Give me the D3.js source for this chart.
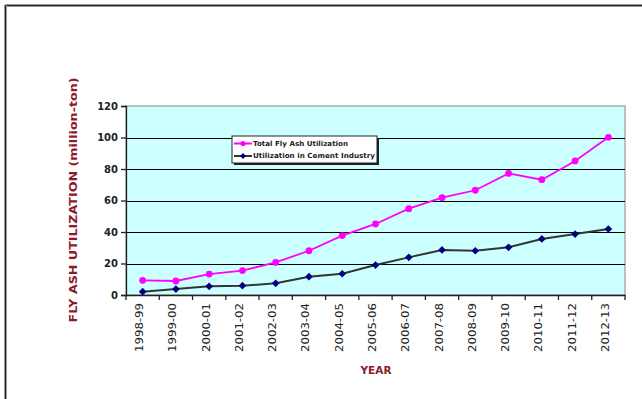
<!DOCTYPE html>
<html><head><meta charset="utf-8">
<script src="https://cdn.jsdelivr.net/npm/d3@7"></script>
<style>body{margin:0;background:#fff}svg{display:block}</style>
</head><body>
<script>
const categories = ["1998-99","1999-00","2000-01","2001-02","2002-03","2003-04","2004-05","2005-06","2006-07","2007-08","2008-09","2009-10","2010-11","2011-12","2012-13"];
const totalUtilization = [9.3,8.9,13.3,15.5,20.7,28.1,37.7,45.1,54.8,61.8,66.5,77.2,73.2,85.1,100.1];
const cementUtilization = [2.1,3.8,5.5,5.9,7.4,11.6,13.5,19.0,23.9,28.6,28.1,30.3,35.6,38.7,41.9];
const yTicks = [0,20,40,60,80,100,120];
const seriesNames = ["Total Fly Ash Utilization","Utilization in Cement Industry"];

const W=642,H=399;
const svg=d3.select("body").append("svg").attr("width",W).attr("height",H);
const L=126,R=625,T=106,B=295;
const x=d3.scaleBand().domain(categories).range([L,R]).paddingInner(0).paddingOuter(0);
const y=d3.scaleLinear().domain([0,120]).range([B,T]);

// outer frame
svg.append("line").attr("x1",5).attr("x2",W).attr("y1",5.5).attr("y2",5.5).attr("stroke","#999").attr("stroke-width",3);
svg.append("line").attr("x1",5).attr("x2",W).attr("y1",5.5).attr("y2",5.5).attr("stroke","#222").attr("stroke-width",1);
svg.append("line").attr("x1",5.5).attr("x2",5.5).attr("y1",5).attr("y2",H).attr("stroke","#999").attr("stroke-width",3);
svg.append("line").attr("x1",5.5).attr("x2",5.5).attr("y1",5).attr("y2",H).attr("stroke","#222").attr("stroke-width",1);

// plot background
svg.append("rect").attr("x",L).attr("y",T).attr("width",R-L).attr("height",B-T).attr("fill","#CCFFFF").attr("stroke","#999").attr("stroke-width",1.2);

// gridlines
svg.append("g").selectAll("line").data(yTicks.filter(d=>d>0&&d<120)).join("line")
  .attr("x1",L).attr("x2",R).attr("y1",d=>Math.round(y(d))+0.5).attr("y2",d=>Math.round(y(d))+0.5)
  .attr("stroke","#000").attr("stroke-width",1.2);

// y axis
const ya=svg.append("g").attr("transform",`translate(${L},0)`)
  .call(d3.axisLeft(y).tickValues(yTicks).tickSize(5).tickPadding(3));
ya.selectAll("text").attr("font-family","DejaVu Sans, Verdana, sans-serif").attr("font-size",10).attr("font-weight","bold").attr("fill","#222");
ya.select(".domain").attr("stroke","#222").attr("stroke-width",1.3);
ya.selectAll(".tick line").attr("stroke","#222").attr("stroke-width",1.3);

// x axis
const xa=svg.append("g").attr("transform",`translate(0,${B})`)
  .call(d3.axisBottom(x).tickSize(0).tickSizeOuter(0));
xa.select(".domain").attr("stroke","#222").attr("stroke-width",1.3);
xa.selectAll(".tick text").attr("font-family","DejaVu Sans, Verdana, sans-serif").attr("font-size",10).attr("fill","#222")
  .attr("transform","rotate(-90)").attr("text-anchor","end").attr("x",-8).attr("y",-3).attr("dy","0.35em")
  .attr("textLength",49).attr("lengthAdjust","spacingAndGlyphs");
// band-edge ticks
const edges=categories.map(c=>x(c)).concat([R]);
svg.append("g").selectAll("line").data(edges).join("line")
  .attr("x1",d=>d).attr("x2",d=>d).attr("y1",B).attr("y2",B+5).attr("stroke","#222").attr("stroke-width",1.3);

// lines
const cx=d=>x(d)+x.bandwidth()/2;
const line=d3.line().x((d,i)=>cx(categories[i])).y(d=>y(d));
svg.append("path").datum(cementUtilization).attr("d",line).attr("fill","none").attr("stroke","#333").attr("stroke-width",2);
svg.append("path").datum(totalUtilization).attr("d",line).attr("fill","none").attr("stroke","#FF00FF").attr("stroke-width",1.8);
svg.append("g").selectAll("circle").data(totalUtilization).join("circle")
  .attr("cx",(d,i)=>cx(categories[i])).attr("cy",d=>y(d)).attr("r",3.4).attr("fill","#FF00FF");
const diamond=d3.symbol().type(d3.symbolDiamond2).size(38);
svg.append("g").selectAll("path").data(cementUtilization).join("path")
  .attr("d",diamond).attr("transform",(d,i)=>`translate(${cx(categories[i])},${y(d)})`).attr("fill","#000080");

// legend
const lg=svg.append("g");
lg.append("rect").attr("x",234).attr("y",138).attr("width",145).attr("height",27).attr("fill","#222");
lg.append("rect").attr("x",232).attr("y",136).attr("width",145).attr("height",27).attr("fill","#fff").attr("stroke","#222").attr("stroke-width",1);
const rows=[{c:"#FF00FF",lc:"#FF00FF",yy:143.5,t:seriesNames[0],w:95,m:"c"},{c:"#000080",lc:"#333",yy:156,t:seriesNames[1],w:122,m:"d"}];
rows.forEach(r=>{
  lg.append("line").attr("x1",234).attr("x2",252).attr("y1",r.yy).attr("y2",r.yy).attr("stroke",r.lc).attr("stroke-width",2);
  if(r.m==="c") lg.append("circle").attr("cx",243).attr("cy",r.yy).attr("r",2.6).attr("fill",r.c);
  else lg.append("path").attr("d",d3.symbol().type(d3.symbolDiamond2).size(22)).attr("transform",`translate(243,${r.yy})`).attr("fill",r.c);
  lg.append("text").attr("x",253).attr("y",r.yy).attr("dy","0.35em").attr("font-family","DejaVu Sans, Verdana, sans-serif")
    .attr("font-size",7).attr("font-weight","bold").attr("fill","#222").attr("textLength",r.w).attr("lengthAdjust","spacingAndGlyphs").text(r.t);
});

// axis titles
svg.append("text").attr("transform","translate(77,200) rotate(-90)").attr("text-anchor","middle")
  .attr("font-family","DejaVu Sans, Verdana, sans-serif").attr("font-size",11).attr("font-weight","bold").attr("fill","#8B1A2A")
  .attr("textLength",245).attr("lengthAdjust","spacingAndGlyphs").text("FLY ASH UTILIZATION (million-ton)");
svg.append("text").attr("x",376).attr("y",374).attr("text-anchor","middle")
  .attr("font-family","DejaVu Sans, Verdana, sans-serif").attr("font-size",10.5).attr("font-weight","bold").attr("fill","#8B1A2A").text("YEAR");
</script>
</body></html>
